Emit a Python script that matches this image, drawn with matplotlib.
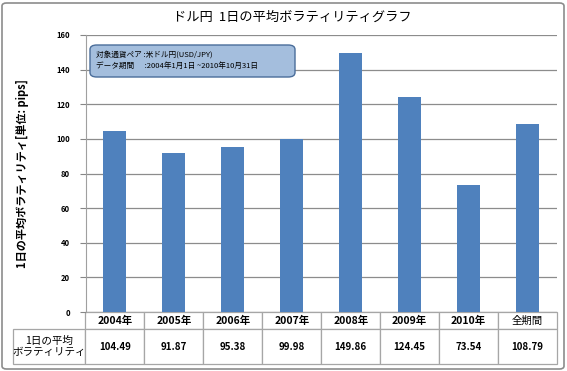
import matplotlib.pyplot as plt
from matplotlib.patches import FancyBboxPatch
import numpy

plt.rcParams['font.family'] = ['Noto Sans CJK JP', 'DejaVu Sans']

years = ['2004年', '2005年', '2006年', '2007年', '2008年', '2009年', '2010年', '全期間']
volatility = [104.49, 91.87, 95.38, 99.98, 149.86, 124.45, 73.54, 108.79]
yticks = [0, 20, 40, 60, 80, 100, 120, 140, 160]

title = 'ドル円  1日の平均ボラティリティグラフ'
ylabel = '1日の平均ボラティリティ[単位: pips]'
row_label = '1日の平均\nボラティリティ'
note = '対象通貨ペア :米ドル円(USD/JPY)\nデータ期間      :2004年1月1日 ~2010年10月31日'

W, H = 567, 371
fig = plt.figure(figsize=(W / 100, H / 100), dpi=100)
ax = fig.add_axes([85.5 / W, 1 - 312 / H, (557 - 85.5) / W, (312 - 35) / H])

x = numpy.arange(len(years))
ax.bar(x, volatility, width=0.39, color='#4F81BD', zorder=3)
ax.set_xlim(-0.5, len(years) - 0.5)
ax.set_ylim(0, 160)
ax.set_yticks(yticks)
ax.set_yticklabels([str(t) for t in yticks], fontsize=5.5, fontweight='bold')
ax.tick_params(axis='y', length=4, color='#868686', pad=7)
ax.set_xticks([])
ax.grid(axis='y', color='#8C8C8C', linewidth=0.9, zorder=0)
for side in ['top', 'right', 'bottom']:
    ax.spines[side].set_visible(False)
ax.spines['left'].set_color('#A0A0A0')

ax.set_ylabel(ylabel, fontsize=8, fontweight='bold', labelpad=20)

# data table below the axes: first column holds the row label
cells = [[''] + years, [row_label] + [f'{v:.2f}' for v in volatility]]
tab = ax.table(cellText=cells, cellLoc='center',
               bbox=[(13 - 85.5) / (557 - 85.5), -(364 - 312) / 277,
                     (557 - 13) / (557 - 85.5), (364 - 312) / 277])
tab.auto_set_font_size(False)
for (r, c), cell in tab.get_celld().items():
    cell.set_edgecolor('#A6A6A6')
    cell.set_linewidth(0.9)
    cell.set_height(17 if r == 0 else 35)
    cell.set_width(72.5 if c == 0 else 59)
    txt = cell.get_text()
    if r == 0 and c == 0:
        cell.visible_edges = ''
    elif c == 0:
        txt.set_fontsize(7.6)
        txt.set_linespacing(1.15)
    elif r == 0:
        txt.set_fontsize(7.5)
        if years[c - 1] != '全期間':
            txt.set_fontweight('bold')
    else:
        txt.set_fontsize(7)
        txt.set_fontweight('bold')

fig.text(292 / W, 1 - 17 / H, title, fontsize=9.5, ha='center', va='center')

box = FancyBboxPatch((90 / W, 1 - 77 / H), 205 / W, 32 / H,
                     boxstyle='round,pad=0,rounding_size=0.012',
                     transform=fig.transFigure, facecolor='#A4BEDD',
                     edgecolor='#4A6D9A', linewidth=1.0, zorder=5)
fig.patches.append(box)
fig.text(96 / W, 1 - 60 / H, note, fontsize=5.5, ha='left', va='center',
         linespacing=1.5, zorder=6)

border = FancyBboxPatch((2 / W, 2 / H), (W - 5) / W, (H - 5) / H,
                        boxstyle='round,pad=0,rounding_size=0.008',
                        transform=fig.transFigure, facecolor='none',
                        edgecolor='#8C8C8C', linewidth=1.2)
fig.patches.append(border)

fig.savefig('out.png', dpi=100)
